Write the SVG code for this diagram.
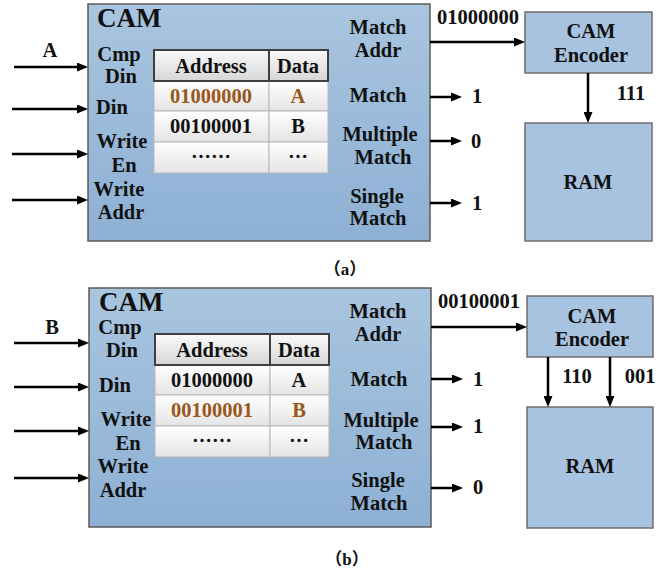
<svg xmlns="http://www.w3.org/2000/svg" width="666" height="580" viewBox="0 0 666 580">
<defs>
<linearGradient id="camg" x1="0" y1="0" x2="0" y2="1">
<stop offset="0" stop-color="#a9c5df"/>
<stop offset="1" stop-color="#8db0d4"/>
</linearGradient>
<linearGradient id="hdrg" x1="0" y1="0" x2="0" y2="1">
<stop offset="0" stop-color="#fafafa"/>
<stop offset="1" stop-color="#d6d6d6"/>
</linearGradient>
<linearGradient id="rowg" x1="0" y1="0" x2="0" y2="1">
<stop offset="0" stop-color="#ffffff"/>
<stop offset="1" stop-color="#e4e4e4"/>
</linearGradient>
<marker id="ah" markerUnits="userSpaceOnUse" markerWidth="11" markerHeight="9" refX="6" refY="4.5" orient="auto">
<path d="M0,0 L11,4.5 L0,9 z" fill="#000"/>
</marker>
</defs>
<style>
text{font-family:"Liberation Serif","Times New Roman",serif;font-weight:bold;font-size:20.5px;fill:#111;text-anchor:middle}
.title{font-size:27px;text-anchor:start}
.brown{fill:#9a571c}
.dots{font-family:"Noto Sans CJK SC",sans-serif;font-weight:bold;font-size:20px}
.cap{font-family:"Liberation Serif","Noto Sans CJK SC",serif;font-size:17px}
.cam{fill:url(#camg);stroke:#5a5a5a;stroke-width:1.5}
.box{fill:#a7c3df;stroke:#6e6e6e;stroke-width:1.5}
.hdr{fill:url(#hdrg);stroke:#3f3f3f;stroke-width:2}
.row{fill:url(#rowg);stroke:#b8b8b8;stroke-width:1}
.conn line{stroke:#000;stroke-width:2.5;marker-end:url(#ah)}
</style>

<!-- Panel (a) -->
<g id="cam-a">
<rect class="cam" x="88" y="4" width="342" height="237"/>
<text class="title" x="97" y="27">CAM</text>
<text x="119" y="61">Cmp</text>
<text x="121" y="83">Din</text>
<text x="112" y="114">Din</text>
<text x="122" y="148">Write</text>
<text x="124" y="172">En</text>
<text x="119" y="196">Write</text>
<text x="121" y="219">Addr</text>
<text x="378" y="34">Match</text>
<text x="378" y="57">Addr</text>
<text x="378" y="102">Match</text>
<text x="380" y="141">Multiple</text>
<text x="383" y="164">Match</text>
<text x="377" y="203">Single</text>
<text x="378" y="225">Match</text>
</g>
<g id="table-a">
<rect class="row" x="154" y="81" width="115" height="30"/>
<rect class="row" x="269" y="81" width="59" height="30"/>
<rect class="row" x="154" y="111" width="115" height="31"/>
<rect class="row" x="269" y="111" width="59" height="31"/>
<rect class="row" x="154" y="142" width="115" height="31"/>
<rect class="row" x="269" y="142" width="59" height="31"/>
<rect class="hdr" x="154" y="50" width="115" height="31"/>
<rect class="hdr" x="269" y="50" width="59" height="31"/>
<text x="211" y="73">Address</text>
<text x="298" y="73">Data</text>
<text class="brown" x="211" y="103">01000000</text>
<text class="brown" x="298" y="103">A</text>
<text x="211" y="133">00100001</text>
<text x="298" y="133">B</text>
<text class="dots" x="211" y="164">……</text>
<text class="dots" x="298" y="164">…</text>
</g>
<g id="enc-a">
<rect class="box" x="525" y="12" width="127" height="61"/>
<text x="591" y="38">CAM</text>
<text x="591" y="62">Encoder</text>
</g>
<g id="ram-a">
<rect class="box" x="525" y="123" width="127" height="118"/>
<text x="588" y="189">RAM</text>
</g>
<g id="conn-a" class="conn">
<line x1="14" y1="67" x2="83" y2="67"/>
<line x1="12" y1="109" x2="83" y2="109"/>
<line x1="12" y1="154" x2="83" y2="154"/>
<line x1="12" y1="200" x2="83" y2="200"/>
<line x1="430" y1="42" x2="520" y2="42"/>
<line x1="588" y1="73" x2="588" y2="118"/>
<line x1="430" y1="97" x2="457" y2="97"/>
<line x1="430" y1="141" x2="457" y2="141"/>
<line x1="430" y1="203" x2="457" y2="203"/>
</g>
<g id="labels-a">
<text x="50" y="57">A</text>
<text x="478" y="24">01000000</text>
<text x="631" y="100">111</text>
<text x="477" y="103">1</text>
<text x="476" y="148">0</text>
<text x="477" y="210">1</text>
<text class="cap" x="345" y="275">（a）</text>
</g>

<!-- Panel (b) -->
<g id="cam-b">
<rect class="cam" x="89" y="288" width="342" height="239"/>
<text class="title" x="99" y="311">CAM</text>
<text x="120" y="334">Cmp</text>
<text x="122" y="357">Din</text>
<text x="115" y="392">Din</text>
<text x="126" y="426">Write</text>
<text x="128" y="450">En</text>
<text x="123" y="473">Write</text>
<text x="123" y="497">Addr</text>
<text x="378" y="318">Match</text>
<text x="378" y="341">Addr</text>
<text x="379" y="386">Match</text>
<text x="381" y="427">Multiple</text>
<text x="384" y="449">Match</text>
<text x="378" y="487">Single</text>
<text x="379" y="510">Match</text>
</g>
<g id="table-b">
<rect class="row" x="155" y="365" width="115" height="30"/>
<rect class="row" x="270" y="365" width="59" height="30"/>
<rect class="row" x="155" y="395" width="115" height="31"/>
<rect class="row" x="270" y="395" width="59" height="31"/>
<rect class="row" x="155" y="426" width="115" height="31"/>
<rect class="row" x="270" y="426" width="59" height="31"/>
<rect class="hdr" x="155" y="334" width="115" height="31"/>
<rect class="hdr" x="270" y="334" width="59" height="31"/>
<text x="212" y="357">Address</text>
<text x="299" y="357">Data</text>
<text x="212" y="387">01000000</text>
<text x="299" y="387">A</text>
<text class="brown" x="212" y="417">00100001</text>
<text class="brown" x="299" y="417">B</text>
<text class="dots" x="212" y="448">……</text>
<text class="dots" x="299" y="448">…</text>
</g>
<g id="enc-b">
<rect class="box" x="527" y="296" width="126" height="61"/>
<text x="592" y="323">CAM</text>
<text x="592" y="346">Encoder</text>
</g>
<g id="ram-b">
<rect class="box" x="527" y="407" width="126" height="121"/>
<text x="590" y="473">RAM</text>
</g>
<g id="conn-b" class="conn">
<line x1="14" y1="343" x2="84" y2="343"/>
<line x1="14" y1="387" x2="84" y2="387"/>
<line x1="14" y1="431" x2="84" y2="431"/>
<line x1="14" y1="478" x2="84" y2="478"/>
<line x1="431" y1="327" x2="522" y2="327"/>
<line x1="548" y1="357" x2="548" y2="402"/>
<line x1="610" y1="357" x2="610" y2="402"/>
<line x1="431" y1="379" x2="458" y2="379"/>
<line x1="431" y1="427" x2="458" y2="427"/>
<line x1="431" y1="488" x2="458" y2="488"/>
</g>
<g id="labels-b">
<text x="52" y="334">B</text>
<text x="479" y="308">00100001</text>
<text x="577" y="383">110</text>
<text x="640" y="383">001</text>
<text x="478" y="386">1</text>
<text x="478" y="433">1</text>
<text x="478" y="494">0</text>
<text class="cap" x="347" y="565">（b）</text>
</g>
</svg>
